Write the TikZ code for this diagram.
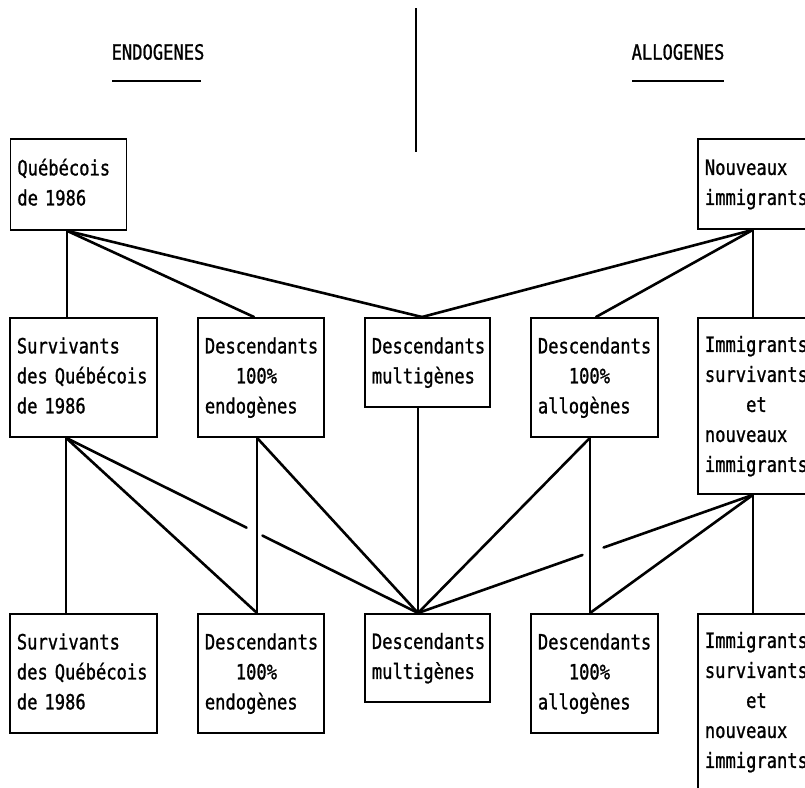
\documentclass[tikz,border=0pt]{standalone}
\usepackage{fontspec}
\newfontfamily\dotfont[FakeStretch=0.815,FakeBold=1]{DejaVu Sans Mono}
\usetikzlibrary{calc}
\begin{document}
\begin{tikzpicture}[x=1pt,y=-1pt,
  box/.style={draw, line width=1.8pt, inner xsep=7pt, inner ysep=0pt, anchor=north west,
    align=left, font=\dotfont\fontsize{21}{30}\selectfont},
  hdr/.style={inner sep=0pt, font=\dotfont\fontsize{21}{30}\selectfont},
  conn/.style={line width=2.6pt, line cap=round},
  rule/.style={line width=1.8pt}]
\useasboundingbox (0,0) rectangle (805,787);
\fill[white] (0,0) rectangle (805,787);
\clip (0,0) rectangle (805,787);

% headers
\node[hdr] (endo) at (158,52) {ENDOGENES};
\node[hdr] (allo) at (678,52) {ALLOGENES};
\draw[rule] (112,81) -- (201,81);
\draw[rule] (632,81) -- (724,81);
\draw[rule] (416,8) -- (416,152);

% row 1
\node[box, text width=102pt, minimum height=91pt] (q) at (9.5,138) {\strut Québécois\\\strut de 1986};
\node[box, text width=110pt, minimum height=90pt] (n) at (697,138) {\strut Nouveaux\\\strut immigrants};

% row 2
\node[box, text width=133pt, minimum height=119pt] (s2) at (9,317) {\strut Survivants\\\strut des Québécois\\\strut de 1986};
\node[box, text width=112pt, minimum height=119pt] (e2) at (197,317) {\strut Descendants\\\strut\hphantom{000}100\%\\\strut endogènes};
\node[box, text width=111pt, minimum height=89pt] (m2) at (364,317) {\strut Descendants\\\strut multigènes};
\node[box, text width=113pt, minimum height=119pt] (a2) at (530,317) {\strut Descendants\\\strut\hphantom{000}100\%\\\strut allogènes};
\node[box, text width=110pt, minimum height=176pt] (i2) at (697,317) {\strut Immigrants\\\strut survivants\\\strut\hphantom{0000}et\\\strut nouveaux\\\strut immigrants};

% row 3
\node[box, text width=133pt, minimum height=119pt] (s3) at (9,613) {\strut Survivants\\\strut des Québécois\\\strut de 1986};
\node[box, text width=112pt, minimum height=119pt] (e3) at (197,613) {\strut Descendants\\\strut\hphantom{000}100\%\\\strut endogènes};
\node[box, text width=111pt, minimum height=88pt] (m3) at (364,613) {\strut Descendants\\\strut multigènes};
\node[box, text width=113pt, minimum height=119pt] (a3) at (530,613) {\strut Descendants\\\strut\hphantom{000}100\%\\\strut allogènes};
\node[box, text width=110pt, minimum height=176pt] (i3) at (697,613) {\strut Immigrants\\\strut survivants\\\strut\hphantom{0000}et\\\strut nouveaux\\\strut immigrants};

% connection points
\coordinate (qb)  at ($(q.south west)+(57.5,0)$);
\coordinate (nb)  at ($(n.south west)+(56,0)$);
\coordinate (s2t) at ($(s2.north west)+(58,0)$);
\coordinate (e2t) at ($(e2.north west)+(57,0)$);
\coordinate (m2t) at ($(m2.north west)+(58,0)$);
\coordinate (a2t) at ($(a2.north west)+(66,0)$);
\coordinate (i2t) at ($(i2.north west)+(56,0)$);
\coordinate (s2b) at ($(s2.south west)+(57,0)$);
\coordinate (e2b) at ($(e2.south west)+(60,0)$);
\coordinate (m2b) at ($(m2.south west)+(54,0)$);
\coordinate (a2b) at ($(a2.south west)+(60,0)$);
\coordinate (i2b) at ($(i2.south west)+(56,0)$);
\coordinate (s3t) at ($(s3.north west)+(57,0)$);
\coordinate (e3t) at ($(e3.north west)+(60,0)$);
\coordinate (m3t) at ($(m3.north west)+(54,0)$);
\coordinate (a3t) at ($(a3.north west)+(60,0)$);
\coordinate (i3t) at ($(i3.north west)+(56,0)$);

% top layer
\draw[conn] (qb) -- (s2t);
\draw[conn] (qb) -- (e2t);
\draw[conn] (qb) -- (m2t);
\draw[conn] (nb) -- (i2t);
\draw[conn] (nb) -- (a2t);
\draw[conn] (nb) -- (m2t);

% middle layer
\draw[conn] (s2b) -- (s3t);
\draw[conn] (s2b) -- (e3t);
\draw[conn] (s2b) -- ($(s2b)!0.513!(m3t)$);
\draw[conn] ($(s2b)!0.558!(m3t)$) -- (m3t);
\draw[conn] (e2b) -- (e3t);
\draw[conn] (e2b) -- (m3t);
\draw[conn] (m2b) -- (m3t);
\draw[conn] (a2b) -- (m3t);
\draw[conn] (a2b) -- (a3t);
\draw[conn] (i2b) -- ($(i2b)!0.446!(m3t)$);
\draw[conn] ($(i2b)!0.509!(m3t)$) -- (m3t);
\draw[conn] (i2b) -- (a3t);
\draw[conn] (i2b) -- (i3t);
\end{tikzpicture}
\end{document}
